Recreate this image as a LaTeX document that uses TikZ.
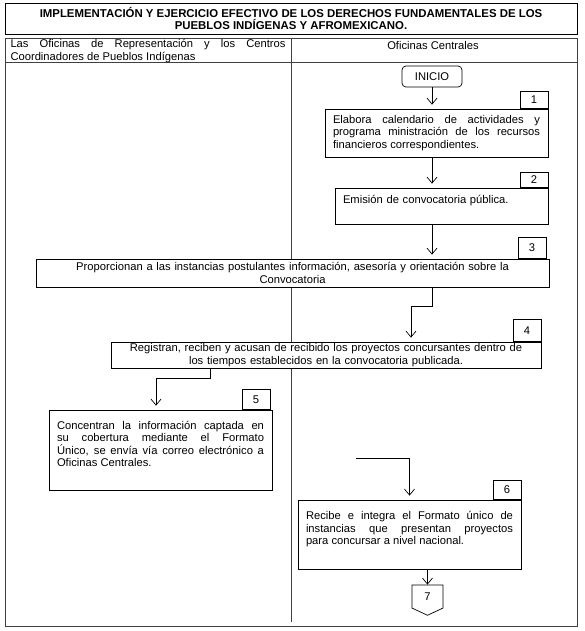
\documentclass[tikz,border=0pt]{standalone}
\usepackage{fontspec}
\setmainfont{Liberation Sans}
\usetikzlibrary{arrows.meta,calc,shapes.symbols}
\hyphenpenalty=10000
\exhyphenpenalty=10000

\begin{document}
\begin{tikzpicture}[->,>={Straight Barb[length=6pt,width=10pt]},shorten >=4pt,
    x=1pt,y=-1pt,line width=0.7pt,
    every node/.style={font=\fontsize{11.2}{12.5}\selectfont},
    proc/.style={draw,fill=white,inner xsep=8pt,inner ysep=1pt,align=justify},
    tag/.style={draw,fill=white,anchor=south east,minimum width=28pt,
      minimum height=19pt,inner sep=0pt},
    frame/.style={-,draw=black!75,line width=1pt}]
  \useasboundingbox (0,0) rectangle (584,631);

  % frame of the table
  \draw[frame,draw=black] (5,4) rectangle (577,35);
  \draw[frame] (5,39) rectangle (577,626);
  \draw[frame] (5,63) -- (581,63);
  \draw[frame] (291,39) -- (291,626);

  \node[font=\fontsize{11.4}{12}\selectfont\bfseries,align=center] (tt) at (291,18.5)
    {IMPLEMENTACIÓN Y EJERCICIO EFECTIVO DE LOS DERECHOS FUNDAMENTALES DE LOS\\
     PUEBLOS INDÍGENAS Y AFROMEXICANO.};
  \node[text width=275pt,align=justify,inner sep=0pt] (hl) at (148,51)
    {Las Oficinas de Representación y los Centros\linebreak
     Coordinadores de Pueblos Indígenas};
  \node (hr) at (433,45) {Oficinas Centrales};

  \node[draw,rounded corners=4pt,minimum width=60pt,minimum height=21pt,
    inner sep=0pt] (i) at (432,76.5) {INICIO};

  \node[proc,text width=207pt,minimum height=48pt] (1) at (436.5,133)
    {Elabora calendario de actividades y\linebreak
     programa ministración de los recursos\linebreak
     financieros correspondientes.};
  \node[tag,minimum height=17pt] (t1) at (1.north east) {1};

  \node[proc,align=left,text width=197pt,minimum height=36pt] (2) at (441.5,206)
    {Emisión de convocatoria pública.\\ \mbox{}};
  \node[tag,minimum height=15pt] (t2) at (2.north east) {2};

  \node[proc,align=center,text width=497pt,minimum height=28pt] (3) at (292.5,273)
    {Proporcionan a las instancias postulantes información, asesoría y orientación sobre la\\
     Convocatoria};
  \node[tag,minimum height=21pt] (t3) at ([xshift=-3pt]3.north east) {3};

  \node[proc,align=center,text width=414pt,minimum height=26pt] (4) at (326,355)
    {Registran, reciben y acusan de recibido los proyectos concursantes dentro de\\
     los tiempos establecidos en la convocatoria publicada.};
  \node[tag,minimum height=22pt] (t4) at (4.north east) {4};

  \node[proc,text width=207pt,minimum height=80pt] (5) at (160.5,450)
    {Concentran la información captada en\linebreak
     su cobertura mediante el Formato\linebreak
     Único, se envía vía correo electrónico a\linebreak
     Oficinas Centrales.\\ \mbox{}};
  \node[tag,minimum height=20pt] (t5) at ([xshift=-2pt]5.north east) {5};

  \node[proc,text width=207pt,minimum height=69pt] (6) at (409.5,534.5)
    {Recibe e integra el Formato único de\linebreak
     instancias que presentan proyectos\linebreak
     para concursar a nivel nacional.\\ \mbox{}};
  \node[tag,minimum height=19pt] (t6) at (6.north east) {6};

  \node[draw,signal,signal to=south,signal pointer angle=130,minimum width=31pt,
    minimum height=25pt,inner sep=1pt] (7) at (427.5,596.5) {7};

  \coordinate (c34) at (411,306);
  \coordinate (c45) at (156,378);
  \coordinate (c6) at (356,458);

  \draw (i) -- (i |- 1.north);
  \draw (i |- 1.south) -- (i |- 2.north);
  \draw (i |- 2.south) -- (i |- 3.north);
  \draw (i |- 3.south) |- (c34) -- (c34 |- 4.north);
  \draw ([xshift=-116pt]4.south) |- (c45) -- (c45 |- 5.north);
  \draw (c6) -| (6.north);
  \draw[shorten >=0pt] (7 |- 6.south) -- (7);
\end{tikzpicture}
\end{document}
